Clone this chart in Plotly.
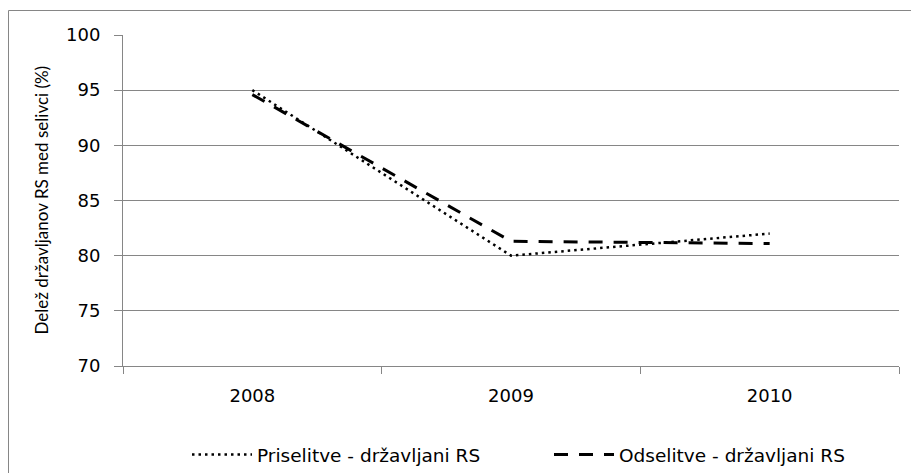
import plotly.graph_objects as go

years = ["2008", "2009", "2010"]
priselitve = [95.0, 80.0, 82.0]
odselitve = [94.6, 81.3, 81.1]
name_pri = "Priselitve - državljani RS"
name_ods = "Odselitve - državljani RS"
y_title = "Delež državljanov RS med selivci (%)"
y_ticks = [70, 75, 80, 85, 90, 95, 100]

FONT = "DejaVu Sans"
TITLE_FONT = "Lato"
GRID = "#868686"

# page has an 8px body margin; figure coordinates = page coordinates - 8
OFF = 8
W, H = 919 - OFF, 473 - OFF
L, R, T, B = 123 - OFF, 20, 35 - OFF, 107
pw, ph = W - L - R, H - T - B

def px_x(page_x):
    return (page_x - OFF - L) / pw

def px_y(page_y):
    return (H - B - (page_y - OFF)) / ph

fig = go.Figure()
fig.add_trace(go.Scatter(x=years, y=priselitve, mode="lines", name=name_pri,
                         line=dict(color="black", width=2.5, dash="2.5px,4px")))
fig.add_trace(go.Scatter(x=years, y=odselitve, mode="lines", name=name_ods,
                         line=dict(color="black", width=3, dash="14px,11px")))

fig.update_layout(
    width=W, height=H,
    margin=dict(l=L, r=R, t=T, b=B, pad=0, autoexpand=False),
    paper_bgcolor="white", plot_bgcolor="white",
    font=dict(family=FONT, size=17, color="black"),
    showlegend=True,
    legend=dict(orientation="h", x=px_x(187), xanchor="left",
                y=px_y(455), yanchor="middle", itemwidth=60,
                font=dict(size=18.5), entrywidth=287, entrywidthmode="pixels",
                bgcolor="rgba(0,0,0,0)", traceorder="normal"),
    xaxis=dict(type="category", range=[-0.5, 2.5], showgrid=False, showline=True,
               linecolor=GRID, linewidth=1, ticks="outside", tickson="boundaries",
               ticklen=7, tickcolor=GRID, ticklabelstandoff=13, zeroline=False,
               tickfont=dict(size=18)),
    yaxis=dict(range=[70, 100], tickvals=y_ticks, showgrid=True, gridcolor=GRID,
               gridwidth=1, showline=True, linecolor=GRID, linewidth=1,
               ticks="outside", ticklen=8, tickcolor=GRID, ticklabelstandoff=10,
               zeroline=False, tickfont=dict(size=18)),
    annotations=[dict(text=y_title, textangle=-90, xref="paper", yref="paper",
                      x=px_x(41), y=0.5, xanchor="center", yanchor="middle",
                      showarrow=False, font=dict(family=TITLE_FONT, size=17))],
    shapes=[dict(type="rect", xref="paper", yref="paper",
                 x0=px_x(8.5), x1=px_x(940),
                 y0=px_y(500), y1=px_y(10.5),
                 line=dict(color=GRID, width=1), layer="below")],
)

fig.write_html("out.html")
